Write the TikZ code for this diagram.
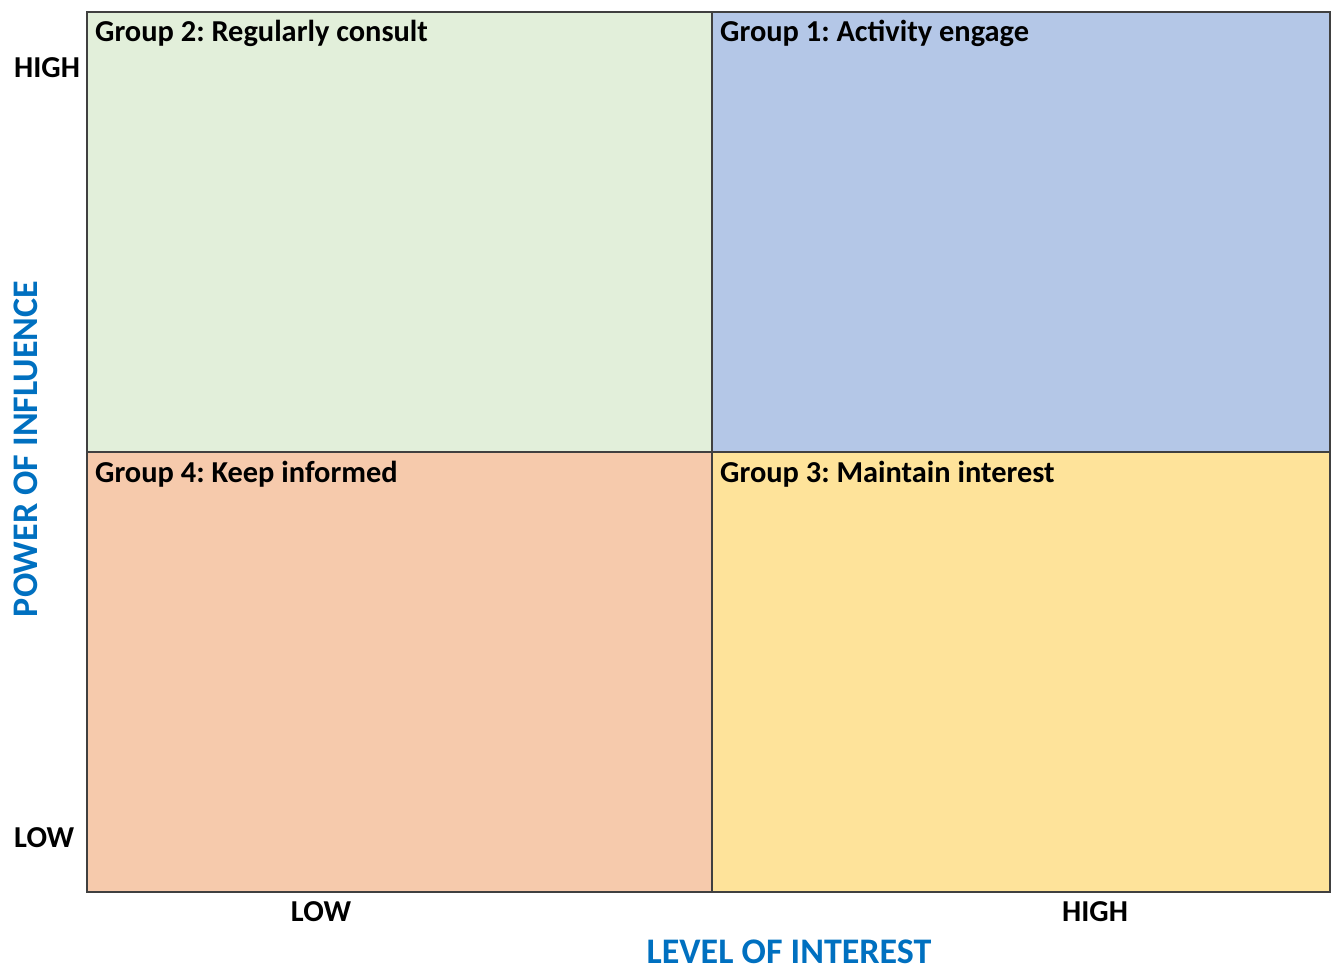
\documentclass[tikz,border=0pt]{standalone}
\usepackage{fontspec}
\setmainfont{Carlito}
\frenchspacing
\definecolor{qgreen}{HTML}{E2EFDA}
\definecolor{qblue}{HTML}{B4C7E7}
\definecolor{qpeach}{HTML}{F6CAAC}
\definecolor{qyellow}{HTML}{FEE39A}
\definecolor{axisblue}{HTML}{0070C0}
\definecolor{edgegray}{HTML}{404040}
\tikzset{
  quad/.style={draw=edgegray, line width=1.3pt},
  grouplabel/.style={anchor=base west, inner sep=0pt, font=\fontsize{30.4}{34}\selectfont\bfseries},
  ticklabel/.style={inner sep=0pt, font=\fontsize{30.4}{34}\selectfont\bfseries},
  axislabel/.style={inner sep=0pt, text=axisblue, font=\fontsize{36}{40}\selectfont\bfseries},
}
\begin{document}
\begin{tikzpicture}[x=1pt,y=-1pt]
\useasboundingbox (0,0) rectangle (1333,967);
\fill[qgreen] (87,12) rectangle (712,452);
\fill[qblue] (712,12) rectangle (1330,452);
\fill[qpeach] (87,452) rectangle (712,892);
\fill[qyellow] (712,452) rectangle (1330,892);
\draw[quad] (87,12) rectangle (712,452);
\draw[quad] (712,12) rectangle (1330,452);
\draw[quad] (87,452) rectangle (712,892);
\draw[quad] (712,452) rectangle (1330,892);
\node[grouplabel] (g2) at (95,41) {Group 2: Regularly consult};
\node[grouplabel] (g1) at (720,41) {Group 1: Activity engage};
\node[grouplabel] (g4) at (95,482) {Group 4: Keep informed};
\node[grouplabel] (g3) at (720,482) {Group 3: Maintain interest};
\node[ticklabel, anchor=base west] (yhigh) at (14,77) {HIGH};
\node[ticklabel, anchor=base west] (ylow) at (14,847) {LOW};
\node[ticklabel, anchor=base] (xlow) at (321,921) {LOW};
\node[ticklabel, anchor=base] (xhigh) at (1095,921) {HIGH};
\node[axislabel, anchor=base] (xaxis) at (789,963) {LEVEL OF INTEREST};
\node[axislabel, anchor=base, rotate=90] (yaxis) at (37,449) {POWER OF INFLUENCE};
\end{tikzpicture}
\end{document}
